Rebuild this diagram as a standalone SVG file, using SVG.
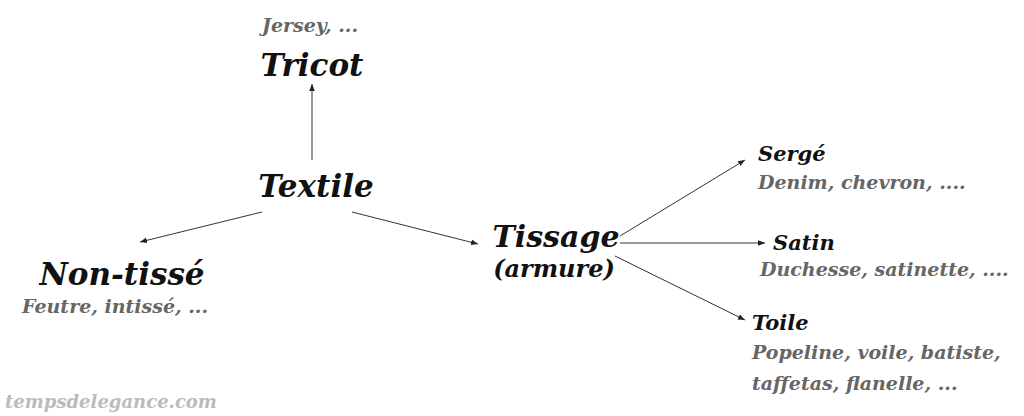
<svg xmlns="http://www.w3.org/2000/svg" width="1024" height="416" viewBox="0 0 1024 416">
<style>
text{font-family:"DejaVu Serif",serif;font-style:italic;font-weight:bold}
.big{font-size:31px;fill:#111}
.mid{font-size:21px;fill:#111}
.sub{font-size:19px;fill:#666}
.wm{font-size:18px;fill:#bbb}
line{stroke:#333;stroke-width:1;marker-end:url(#a)}
</style>
<defs><marker id="a" viewBox="0 0 10 10" refX="10" refY="5" markerWidth="7" markerHeight="7" orient="auto"><path d="M0,1L10,5L0,9z" fill="#222"/></marker></defs>
<rect width="1024" height="416" fill="#fff"/>
<g id="connectors">
<line x1="312" y1="160" x2="312" y2="84"/>
<line x1="262" y1="212" x2="140" y2="242"/>
<line x1="352" y1="212" x2="478" y2="244"/>
<line x1="620" y1="236" x2="745" y2="160"/>
<line x1="620" y1="243" x2="765" y2="243"/>
<line x1="615" y1="256" x2="745" y2="320"/>
</g>
<g id="tricot"><text class="sub" x="310" y="32" text-anchor="middle">Jersey, ...</text><text class="big" x="312" y="76" text-anchor="middle">Tricot</text></g>
<g id="textile"><text class="big" x="316" y="197" text-anchor="middle">Textile</text></g>
<g id="nontisse"><text class="big" x="122" y="285" text-anchor="middle">Non-tissé</text><text class="sub" x="22" y="313">Feutre, intissé, ...</text></g>
<g id="tissage"><text class="big" x="556" y="247" text-anchor="middle" style="font-size:30px">Tissage</text><text class="mid" x="554" y="277" text-anchor="middle" style="font-size:24px">(armure)</text></g>
<g id="serge"><text class="mid" x="758" y="161">Sergé</text><text class="sub" x="758" y="189">Denim, chevron, ....</text></g>
<g id="satin"><text class="mid" x="773" y="250">Satin</text><text class="sub" x="760" y="276">Duchesse, satinette, ....</text></g>
<g id="toile"><text class="mid" x="752" y="330">Toile</text><text class="sub" x="752" y="359">Popeline, voile, batiste,</text><text class="sub" x="752" y="390">taffetas, flanelle, ...</text></g>
<text class="wm" x="5" y="408">tempsdelegance.com</text>
</svg>
